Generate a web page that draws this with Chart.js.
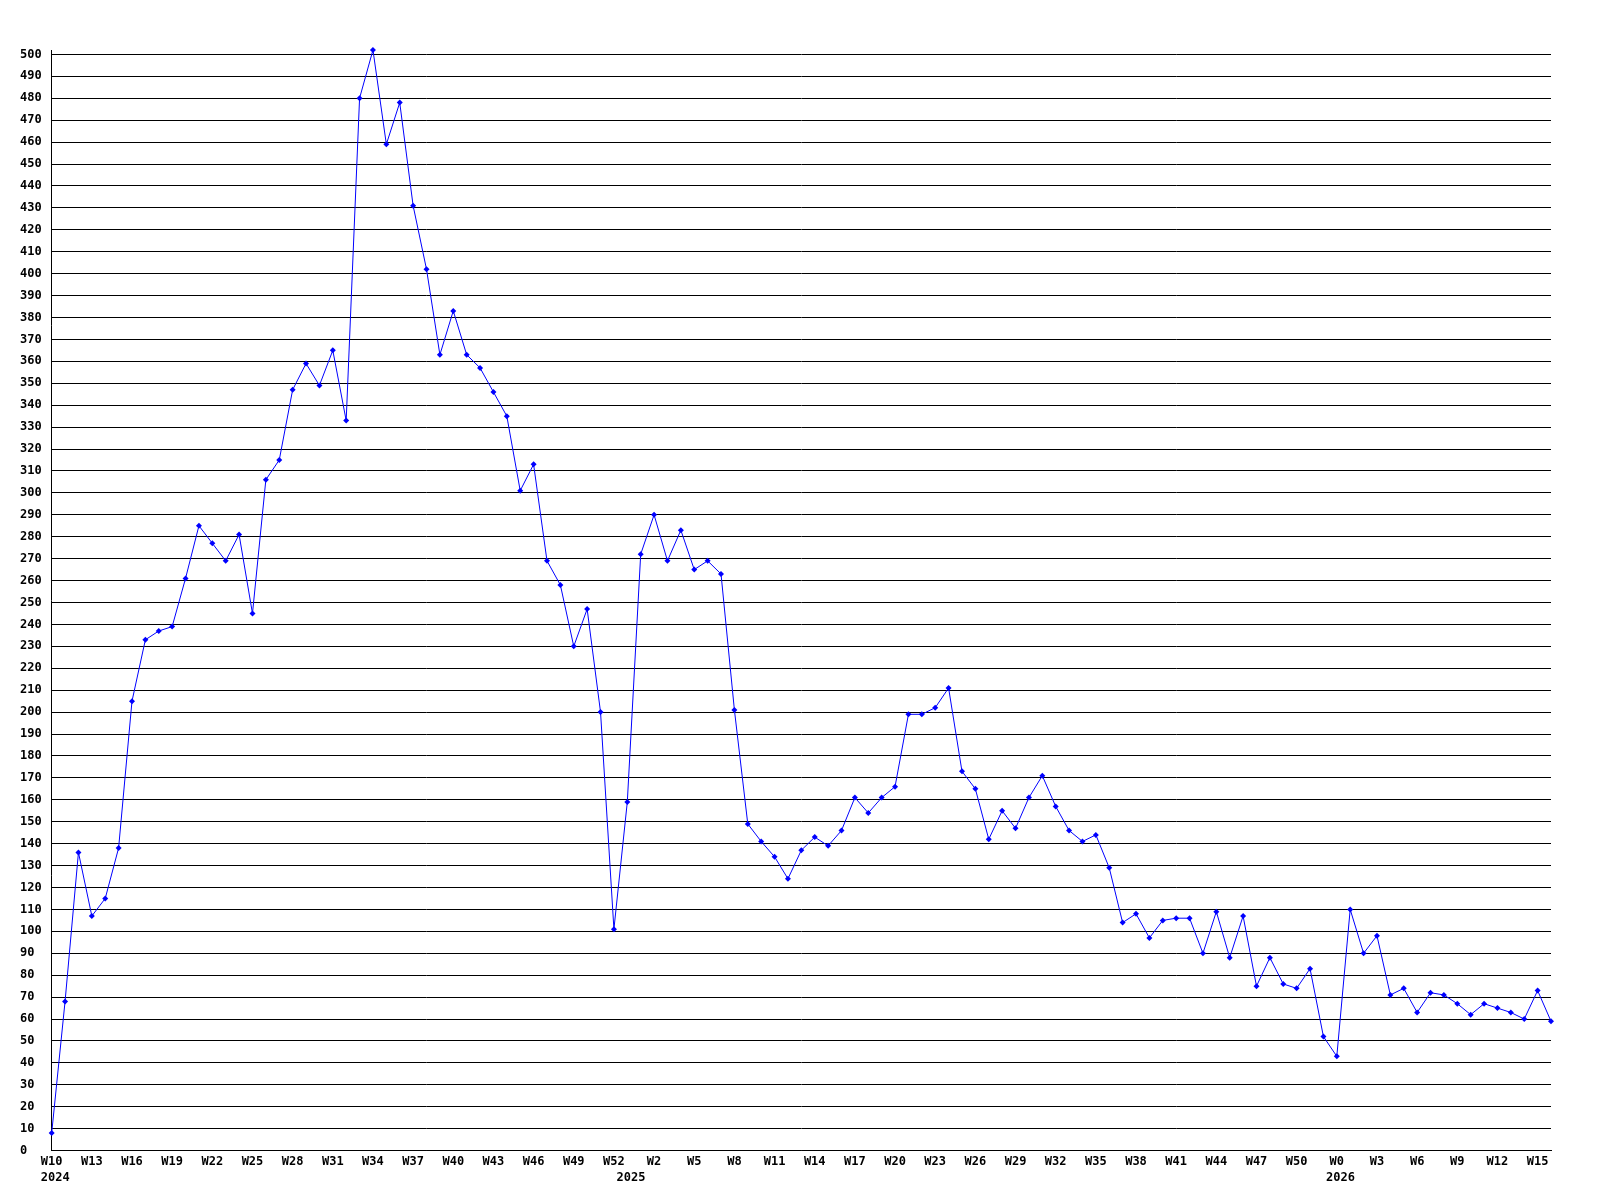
<!DOCTYPE html>
<html>
<head>
<meta charset="utf-8">
<title>Weekly count</title>
<script src="https://cdn.jsdelivr.net/npm/chart.js@4/dist/chart.umd.min.js"></script>
<style>
    body{ margin:0; background:#ffffff; }
    #graphWeeks{ display:block; }
</style>
</head>
<body>
<canvas id="graphWeeks" width="1600" height="1200"></canvas>
<script>
// weeks on the axis, per year: first and last week number
const years = [2024, 2025, 2026];
const first_weeks = [10, 0, 0];
const last_weeks = [52, 52, 16];

// one value per week
const weekly_values = [
    8, 68, 136, 107, 115, 138, 205, 233, 237, 239,
    261, 285, 277, 269, 281, 245, 306, 315, 347, 359,
    349, 365, 333, 480, 502, 459, 478, 431, 402, 363,
    383, 363, 357, 346, 335, 301, 313, 269, 258, 230,
    247, 200, 101,
    159, 272, 290, 269, 283, 265, 269, 263, 201, 149,
    141, 134, 124, 137, 143, 139, 146, 161, 154, 161,
    166, 199, 199, 202, 211, 173, 165, 142, 155, 147,
    161, 171, 157, 146, 141, 144, 129, 104, 108, 97,
    105, 106, 106, 90, 109, 88, 107, 75, 88, 76,
    74, 83, 52,
    43, 110, 90, 98, 71, 74, 63, 72, 71, 67,
    62, 67, 65, 63, 60, 73, 59
];

// y tick labels: 0 to 500, every 10
const y_min_label = 0;
const y_max_label = 500;
const y_step = 10;


window.addEventListener("load", function(){

    Chart.defaults.font.family = "'DejaVu Sans Mono', monospace";
    Chart.defaults.font.size = 12;
    Chart.defaults.font.weight = 'bold';
    Chart.defaults.color = '#000000';

    buildGraph();
});


function buildWeekLabels(){

    let weeks = [];
    let year_marks = [];

    for(let y = 0; y < years.length; y++){
        for(let w = first_weeks[y]; w <= last_weeks[y]; w++){
            weeks.push(`W${w}`);
            year_marks.push(w === first_weeks[y] ? String(years[y]) : '');
        };
    };
    return [weeks, year_marks];
};


function buildYTicks(scale){

    let ticks = [];
    for(let v = y_min_label; v <= y_max_label; v += y_step){
        ticks.push({value: v});
    };
    scale.ticks = ticks;
};


function buildGraph(){

    const labels = buildWeekLabels();
    const weeks = labels[0];
    const year_marks = labels[1];

    const canvasWeeks = document.getElementById('graphWeeks').getContext('2d');
    let graphWeeks = new Chart(canvasWeeks, {

        type: 'line',

        data: {
            labels: weeks,
            datasets: [{
                data: weekly_values,
                borderColor: '#0000ff',
                borderWidth: 1,
                tension: 0,
                pointStyle: 'rectRot',
                pointRadius: 3,
                pointBorderWidth: 0,
                pointBackgroundColor: '#0000ff',
                clip: false
            }]
        },
        options:{
            responsive: false,
            animation: false,
            layout:{
                padding:{
                    left:20,
                    right:49,
                    top:50,
                    bottom:11
                }
            },
            scales:{
                y:{
                    min:0,
                    max:502,
                    afterBuildTicks: buildYTicks,
                    ticks:{
                        autoSkip: false,
                        crossAlign: 'far',
                        padding: 5
                    },
                    grid:{
                        color: '#000000',
                        lineWidth: 1,
                        drawTicks: false
                    },
                    border:{
                        color: '#000000',
                        width: 1
                    }
                },
                x:{
                    grid:{
                        display: false,
                        drawTicks: false
                    },
                    border:{
                        color: '#000000',
                        width: 1
                    },
                    ticks:{
                        autoSkip: false,
                        maxRotation: 0,
                        padding: 3,
                        font:{
                            lineHeight: 1.35
                        },
                        callback: function(value, index){
                            let week = index % 3 === 0 ? weeks[index] : '';
                            if(year_marks[index] !== ''){
                                // year sits a little right, under the week's left edge
                                return [week, ' ' + year_marks[index]];
                            };
                            return week;
                        }
                    }
                }
            },
            plugins:{
                legend:{
                    display: false
                },
                tooltip:{
                    enabled: false
                }
            }
        }
    });
};
</script>
</body>
</html>
